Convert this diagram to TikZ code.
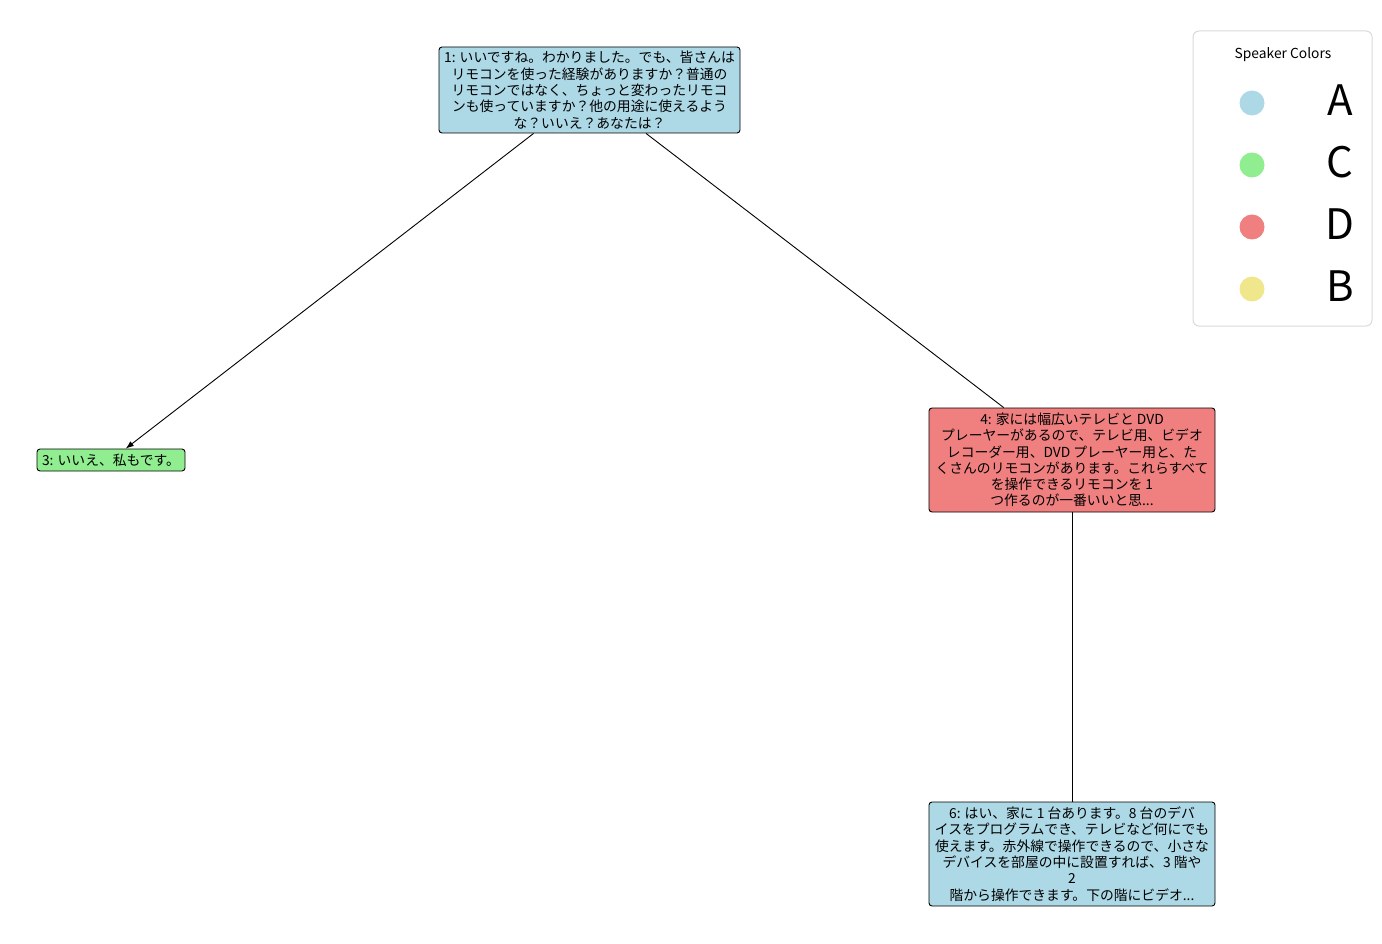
\documentclass[tikz,border=0pt]{standalone}
\usepackage{fontspec}
\setmainfont{Noto Sans CJK JP}
\usetikzlibrary{arrows.meta,positioning}
\definecolor{spkA}{RGB}{173,216,230}
\definecolor{spkC}{RGB}{144,238,144}
\definecolor{spkD}{RGB}{240,128,128}
\definecolor{spkB}{RGB}{240,230,140}
\newcommand \spkentry[3]
{
\fill[#2] (1252,#1) circle (12.5);
\node[anchor=center,font=\fontsize{42}{42}\selectfont] (leg#3) at (1340,#1-2.5) {#3};
}

\begin{document}
\begin{tikzpicture}[x=1pt, y=-1pt, line join=round,
  turn/.style={draw=black, line width=0.9pt, rounded corners=3pt, inner sep=1pt,
    align=center, font=\fontsize{13.8}{16.3}\selectfont},
  reply/.style={draw=black, line width=0.9pt}]
\useasboundingbox (0,0) rectangle (1382,944);
% legend
\draw[black!15, line width=1pt, rounded corners=6pt] (1193,31) rectangle (1372,326);
\node[font=\fontsize{13.8}{14}\selectfont] (legtitle) at (1283,55) {Speaker Colors};
\spkentry{103}{spkA}{A}
\spkentry{165}{spkC}{C}
\spkentry{227}{spkD}{D}
\spkentry{289}{spkB}{B}
% turns
\node[turn, fill=spkA, minimum width=301, minimum height=86] (t1) at (589.5,90)
  {1: いいですね。わかりました。でも、皆さんは\\リモコンを使った経験がありますか？普通の\\リモコンではなく、ちょっと変わったリモコ\\ンも使っていますか？他の用途に使えるよう\\な？いいえ？あなたは？};
\node[turn, fill=spkC, minimum width=148, minimum height=22] (t3) at (111,460)
  {3: いいえ、私もです。};
\node[turn, fill=spkD, minimum width=286, minimum height=104] (t4) at (1072,460)
  {4: 家には幅広いテレビと DVD\\プレーヤーがあるので、テレビ用、ビデオ\\レコーダー用、DVD プレーヤー用と、た\\くさんのリモコンがあります。これらすべて\\を操作できるリモコンを 1\\つ作るのが一番いいと思...};
\node[turn, fill=spkA, minimum width=286, minimum height=104] (t6) at (1072,854)
  {6: はい、家に 1 台あります。8 台のデバ\\イスをプログラムでき、テレビなど何にでも\\使えます。赤外線で操作できるので、小さな\\デバイスを部屋の中に設置すれば、3 階や\\2\\階から操作できます。下の階にビデオ...};
% replies
\draw[reply, -{Latex[length=8pt,width=6pt]}] (t1) -- (t3);
\draw[reply] (t1) -- (t4);
\draw[reply] (t4) -- (t6);
\end{tikzpicture}
\end{document}
